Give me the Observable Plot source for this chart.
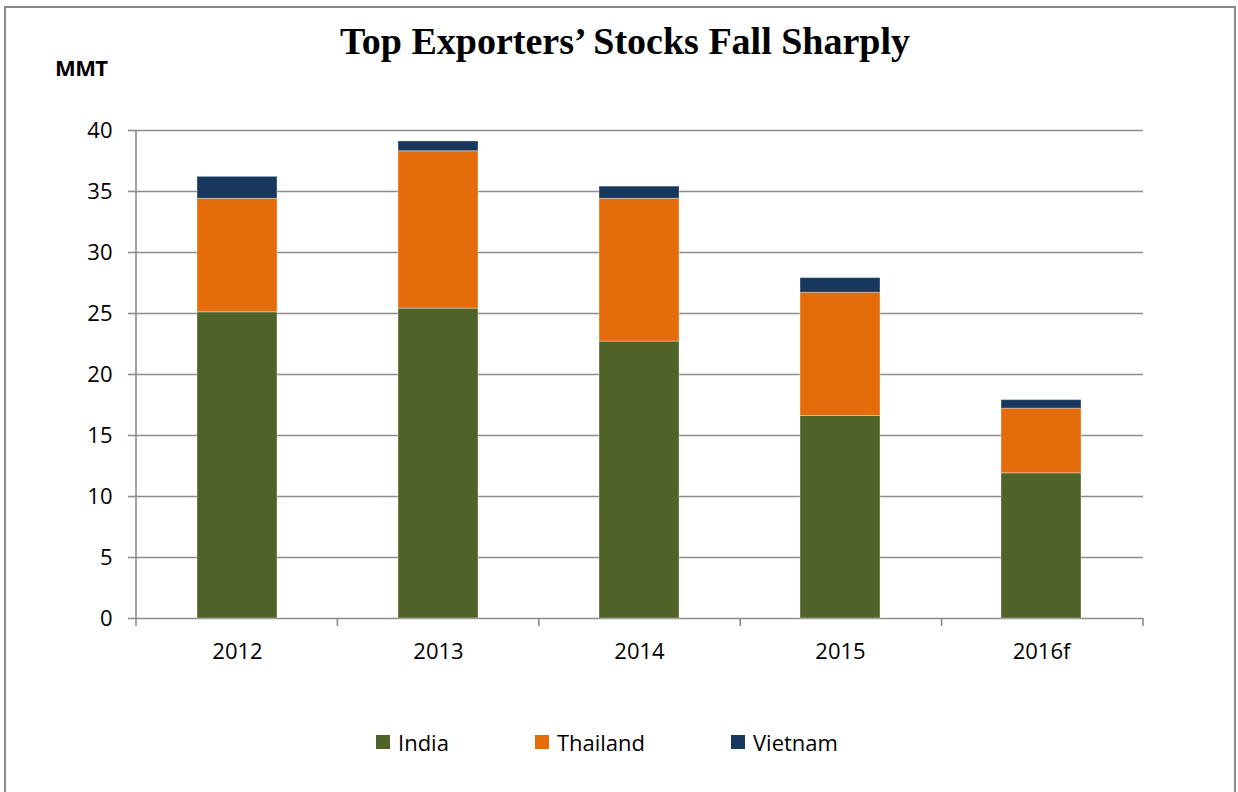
<!DOCTYPE html>
<html><head><meta charset="utf-8">
<script src="https://cdn.jsdelivr.net/npm/d3@7"></script>
<script src="https://cdn.jsdelivr.net/npm/@observablehq/plot@0.6"></script>
<style>
body{margin:0;background:#fff;}
#wrap{position:relative;width:1238px;height:792px;overflow:hidden;background:#fff;}
#frame{position:absolute;left:4px;top:6px;width:1232px;height:900px;border:2px solid #8a8a8a;box-sizing:border-box;}
#title{position:absolute;left:0;width:1250px;top:19px;text-align:center;font:bold 38px "Liberation Serif",serif;color:#000;}
#unit{position:absolute;left:55px;top:52px;font:bold 22px "Open Sans",sans-serif;color:#000;letter-spacing:-0.6px;}
#chart{position:absolute;left:0;top:0;}
#legend{position:absolute;left:376px;top:727px;display:flex;align-items:center;font:22px "Open Sans",sans-serif;color:#000;}
.item{display:flex;align-items:center;margin-right:86px;}
.sw{width:14px;height:14px;margin-right:8px;}
</style></head>
<body>
<div id="wrap">
  <div id="frame"></div>
  <div id="title">Top Exporters’ Stocks Fall Sharply</div>
  <div id="unit">MMT</div>
  <div id="chart"></div>
  <div id="legend"></div>
</div>
<script>
const years = ["2012", "2013", "2014", "2015", "2016f"];
const countries = ["India", "Thailand", "Vietnam"];
const india = [25.1, 25.4, 22.7, 16.6, 11.9];
const thailand = [9.3, 12.9, 11.7, 10.1, 5.3];
const vietnam = [1.8, 0.8, 1.0, 1.2, 0.7];
const colors = ["#4f6228", "#e46c0a", "#17375e"];
const yTicks = [0, 5, 10, 15, 20, 25, 30, 35, 40];

const seriesValues = [india, thailand, vietnam];
const data = [];
countries.forEach((c, ci) => years.forEach((y, yi) => data.push({year: y, country: c, value: seriesValues[ci][yi]})));

const gridColor = "#8c8c8c";
const plot = Plot.plot({
  width: 1238, height: 700,
  marginTop: 130, marginLeft: 136, marginRight: 95, marginBottom: 82,
  style: {fontFamily: "'Open Sans', sans-serif", fontSize: "22px", color: "#000", background: "transparent", overflow: "visible"},
  x: {domain: years, paddingInner: 0.6, paddingOuter: 0.3, label: null},
  y: {domain: [0, 40], label: null},
  color: {domain: countries, range: colors},
  marks: [
    Plot.ruleY(yTicks, {stroke: gridColor, strokeWidth: 1.6}),
    Plot.barY(data, {x: "year", y: "value", fill: "country", stroke: "#fff", strokeOpacity: 0.35, strokeWidth: 1}),
    Plot.axisY({ticks: yTicks, tickSize: 8, tickPadding: 16, stroke: gridColor, strokeWidth: 1.6, label: null}),
    Plot.axisX({tickSize: 0, tickPadding: 25, label: null})
  ]
});
document.getElementById("chart").appendChild(plot);

// left axis line and category boundary ticks, from the library's scales
const xs = plot.scale("x"), ys = plot.scale("y");
const r0 = xs.range[0], r1 = xs.range[1];
const step = (r1 - r0) / years.length;
const y0 = ys.apply(0), y40 = ys.apply(40);
const svg = d3.select(plot);
svg.append("line").attr("x1", r0).attr("x2", r0).attr("y1", y40).attr("y2", y0 + 8)
  .attr("stroke", gridColor).attr("stroke-width", 1.6);
for (let i = 1; i <= years.length; i++) {
  svg.append("line").attr("x1", r0 + i * step).attr("x2", r0 + i * step).attr("y1", y0).attr("y2", y0 + 8)
    .attr("stroke", gridColor).attr("stroke-width", 1.6);
}

const legend = document.getElementById("legend");
countries.forEach((c, i) => {
  const it = document.createElement("div"); it.className = "item";
  const sw = document.createElement("div"); sw.className = "sw"; sw.style.background = colors[i];
  const t = document.createElement("span"); t.textContent = c;
  it.appendChild(sw); it.appendChild(t); legend.appendChild(it);
});
</script>
</body></html>
